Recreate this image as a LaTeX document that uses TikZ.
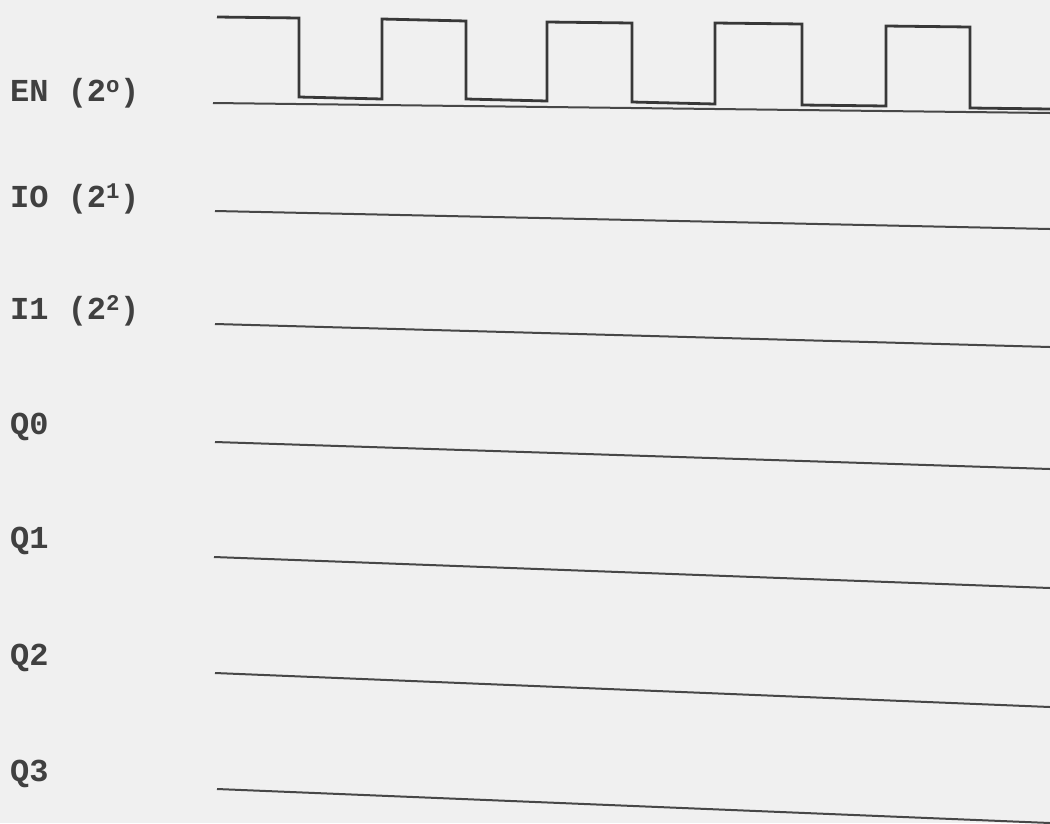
\documentclass[tikz,border=0pt]{standalone}
\usepackage{fontspec}
\setmonofont{Liberation Mono}
\begin{document}
\begin{tikzpicture}[x=1pt,y=-1pt,
  lbl/.style={anchor=west,inner sep=0pt,text=black!75,font=\ttfamily\bfseries\fontsize{32}{36}\selectfont},
  sig/.style={draw=black!78,line width=2.8pt},
  base/.style={draw=black!72,line width=2pt}]
\fill[gray!12] (0,0) rectangle (1050,823);
\useasboundingbox (0,0) rectangle (1050,823);
% labels
\node[lbl] (en) at (10,93) {EN (2\textsuperscript{o})};
\node[lbl] (i0) at (10,199) {IO (2\textsuperscript{1})};
\node[lbl] (i1) at (10,311) {I1 (2\textsuperscript{2})};
\node[lbl] (q0) at (10,427) {Q0};
\node[lbl] (q1) at (10,541) {Q1};
\node[lbl] (q2) at (10,658) {Q2};
\node[lbl] (q3) at (10,774) {Q3};
% line ends
\coordinate (enL) at (213,103); \coordinate (enR) at (1050,113);
\coordinate (i0L) at (215,211); \coordinate (i0R) at (1050,229);
\coordinate (i1L) at (215,324); \coordinate (i1R) at (1050,347);
\coordinate (q0L) at (215,442); \coordinate (q0R) at (1050,469);
\coordinate (q1L) at (214,557); \coordinate (q1R) at (1050,588);
\coordinate (q2L) at (215,673); \coordinate (q2R) at (1050,707);
\coordinate (q3L) at (217,789); \coordinate (q3R) at (1050,823);
\draw[base] (enL) -- (enR);
\draw[base] (i0L) -- (i0R);
\draw[base] (i1L) -- (i1R);
\draw[base] (q0L) -- (q0R);
\draw[base] (q1L) -- (q1R);
\draw[base] (q2L) -- (q2R);
\draw[base] (q3L) -- (q3R);
% clock waveform
\draw[sig,line join=miter] (217,17) -- (299,18) -- (299,97) -- (382,99) -- (382,19)
  -- (466,21) -- (466,99) -- (547,101) -- (547,22) -- (632,23) -- (632,102)
  -- (715,104) -- (715,23) -- (802,24) -- (802,105) -- (886,106) -- (886,26)
  -- (970,27) -- (970,108) -- (1050,109);
\end{tikzpicture}
\end{document}
